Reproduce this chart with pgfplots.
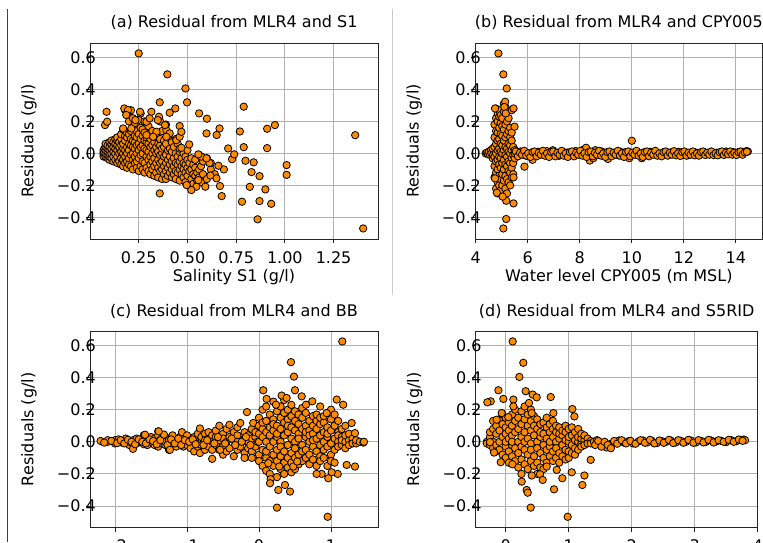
\documentclass[border=0pt]{standalone}
\usepackage{fontspec}
\setmainfont{DejaVu Sans}
\usepackage{pgfplots}
\pgfplotsset{compat=1.18}

\definecolor{dorange}{RGB}{255,140,0}
\definecolor{gridgray}{RGB}{176,176,176}

\pgfplotsset{
  resid/.style={
    scale only axis, anchor=south west,
    width=288pt, height=196pt,
    ymin=-0.535, ymax=0.69,
    ytick={-0.4,-0.2,0,0.2,0.4,0.6},
    yticklabels={−0.4,−0.2,0.0,0.2,0.4,0.6},
    grid=major, major grid style={gridgray, line width=0.9pt},
    axis on top,
    axis line style={black!85, line width=0.9pt},
    tick align=outside, major tick length=4pt,
    tick style={black!85, line width=0.9pt},
    tick pos=left,
    xticklabel style={anchor=base, inner sep=0pt, yshift=-20pt},
    yticklabel style={anchor=east, inner sep=0pt, xshift=10pt},
    ylabel={Residuals (g/l)},
    ylabel style={at={(axis description cs:0,0.5)}, anchor=base, yshift=56.5pt},
    xlabel style={at={(axis description cs:0.5,0)}, anchor=base, yshift=-42.5pt},
    title style={at={(axis description cs:0.5,1)}, anchor=base, yshift=9pt},
  },
  dots/.style={only marks, mark=*, mark size=3.7pt,
    mark options={fill=dorange, draw=black, line width=0.8pt}},
}

\begin{document}
\fontsize{16}{19}\selectfont
\begin{tikzpicture}[font=\fontsize{16}{19}\selectfont]
\path[use as bounding box] (0,0) rectangle (763pt,542pt);
\clip (0,0) rectangle (763pt,542pt);

\draw[black!75, line width=1.2pt] (7.3pt,533pt) -- (7.3pt,0pt);
\draw[black!20, line width=1.5pt] (392.7pt,533pt) -- (392.7pt,247pt);

% (a)
\begin{axis}[resid, at={(90pt,303pt)},
  xmin=0.0, xmax=1.478,
  xtick={0.25,0.5,0.75,1,1.25}, xticklabels={0.25,0.50,0.75,1.00,1.25},
  xlabel={Salinity S1 (g/l)},
  title={(a) Residual from MLR4 and S1}]
\addplot[dots] coordinates {
(0.07,0.0) (0.07,0.01) (0.07,-0.01) (0.07,0.02) (0.07,-0.02) (0.072,0.005) (0.074,0.03)
(0.08,-0.02) (0.08,0.0) (0.08,0.02) (0.08,0.04) (0.08,0.06)
(0.09,-0.03) (0.09,-0.01) (0.09,0.01) (0.09,0.03) (0.09,0.05)
(0.10,-0.04) (0.10,-0.02) (0.10,0.0) (0.10,0.02) (0.10,0.04) (0.10,0.07)
(0.11,-0.03) (0.11,0.0) (0.11,0.03) (0.11,0.06) (0.11,0.08)
(0.12,-0.05) (0.12,-0.02) (0.12,0.01) (0.12,0.04) (0.12,0.07)
(0.13,-0.04) (0.13,0.0) (0.13,0.03) (0.13,0.06) (0.13,0.09)
(0.14,-0.06) (0.14,-0.02) (0.14,0.02) (0.14,0.05) (0.14,0.08) (0.14,0.10)
(0.15,-0.05) (0.15,0.0) (0.15,0.04) (0.15,0.07)
(0.16,-0.07) (0.16,-0.03) (0.16,0.01) (0.16,0.05) (0.16,0.09) (0.16,0.12)
(0.17,-0.08) (0.17,-0.04) (0.17,0.0) (0.17,0.03) (0.17,0.06) (0.17,0.15)
(0.18,-0.06) (0.18,-0.02) (0.18,0.02) (0.18,0.08) (0.18,0.11) (0.18,0.27)
(0.19,-0.09) (0.19,-0.05) (0.19,0.0) (0.19,0.04) (0.19,0.10) (0.19,0.13)
(0.20,-0.07) (0.20,-0.03) (0.20,0.02) (0.20,0.06) (0.20,0.12) (0.20,0.20) (0.20,0.26)
(0.21,-0.08) (0.21,-0.01) (0.21,0.05) (0.21,0.09) (0.21,0.14) (0.21,0.27)
(0.22,-0.10) (0.22,-0.04) (0.22,0.0) (0.22,0.04) (0.22,0.08) (0.22,0.16) (0.22,0.22)
(0.23,-0.06) (0.23,-0.02) (0.23,0.03) (0.23,0.07) (0.23,0.11) (0.23,0.19)
(0.24,-0.09) (0.24,-0.05) (0.24,0.0) (0.24,0.05) (0.24,0.10) (0.24,0.14)
(0.25,-0.11) (0.25,-0.03) (0.25,0.02) (0.25,0.06) (0.25,0.12) (0.25,0.21)
(0.26,-0.08) (0.26,-0.01) (0.26,0.04) (0.26,0.09) (0.26,0.16) (0.26,0.25)
(0.27,-0.10) (0.27,-0.05) (0.27,0.0) (0.27,0.05) (0.27,0.11) (0.27,0.15)
(0.28,-0.12) (0.28,-0.06) (0.28,0.03) (0.28,0.08) (0.28,0.13) (0.28,0.20)
(0.29,-0.09) (0.29,-0.02) (0.29,0.02) (0.29,0.07) (0.29,0.10)
(0.30,-0.11) (0.30,-0.04) (0.30,0.01) (0.30,0.06) (0.30,0.12) (0.30,0.17)
(0.31,-0.13) (0.31,-0.07) (0.31,-0.02) (0.31,0.04) (0.31,0.09)
(0.32,-0.10) (0.32,-0.05) (0.32,0.0) (0.32,0.05) (0.32,0.11) (0.32,0.14)
(0.33,-0.14) (0.33,-0.08) (0.33,-0.03) (0.33,0.02) (0.33,0.07)
(0.34,-0.12) (0.34,-0.06) (0.34,0.0) (0.34,0.04) (0.34,0.10) (0.34,0.12)
(0.35,-0.15) (0.35,-0.09) (0.35,-0.04) (0.35,0.01) (0.35,0.06)
(0.36,-0.11) (0.36,-0.06) (0.36,-0.01) (0.36,0.05) (0.36,0.09) (0.36,0.20)
(0.37,-0.16) (0.37,-0.10) (0.37,-0.05) (0.37,0.0) (0.37,0.03) (0.37,0.14)
(0.38,-0.13) (0.38,-0.08) (0.38,-0.02) (0.38,0.04) (0.38,0.08)
(0.39,-0.16) (0.39,-0.11) (0.39,-0.06) (0.39,-0.01) (0.39,0.06) (0.39,0.18)
(0.40,-0.14) (0.40,-0.09) (0.40,-0.04) (0.40,0.02) (0.40,0.10)
(0.41,-0.12) (0.41,-0.07) (0.41,-0.02) (0.41,0.03)
(0.42,-0.15) (0.42,-0.10) (0.42,-0.05) (0.42,0.01) (0.42,0.07)
(0.43,-0.13) (0.43,-0.08) (0.43,-0.03) (0.43,0.04)
(0.44,-0.16) (0.44,-0.11) (0.44,-0.06) (0.44,0.0) (0.44,0.09)
(0.45,-0.12) (0.45,-0.07) (0.45,-0.02) (0.45,0.06)
(0.46,-0.17) (0.46,-0.10) (0.46,-0.05) (0.46,0.01) (0.46,0.03)
(0.47,-0.13) (0.47,-0.08) (0.47,-0.03)
(0.48,-0.15) (0.48,-0.10) (0.48,-0.06) (0.48,0.0)
(0.49,-0.18) (0.49,-0.12) (0.49,-0.07) (0.49,-0.02)
(0.50,-0.14) (0.50,-0.09) (0.50,-0.04) (0.50,0.02)
(0.51,-0.20) (0.51,-0.11) (0.51,-0.06)
(0.52,-0.16) (0.52,-0.10) (0.52,-0.03)
(0.53,-0.19) (0.53,-0.13) (0.53,-0.07)
(0.54,-0.14) (0.54,-0.09) (0.54,-0.04)
(0.55,-0.17) (0.55,-0.12)
(0.56,-0.15) (0.56,-0.10) (0.56,-0.01)
(0.57,-0.18) (0.57,-0.08)
(0.58,-0.13) (0.58,-0.05)
(0.60,-0.16) (0.60,-0.03)
(0.62,-0.10) (0.62,-0.06)
(0.64,-0.13)
(0.25,0.625) (0.397,0.494) (0.49,0.406) (0.498,0.319) (0.358,0.319) (0.438,0.281)
(0.409,0.254) (0.56,0.25) (0.60,0.217) (0.789,0.292) (0.354,0.229) (0.46,0.171)
(0.598,0.125) (0.65,0.115) (0.665,0.156) (0.769,0.137) (0.909,0.154) (0.949,0.177)
(1.361,0.114) (0.709,0.031) (0.789,0.039) (0.909,0.033) (0.729,-0.036) (0.74,-0.006)
(0.798,-0.046) (0.84,-0.056) (1.009,-0.073) (1.009,-0.134) (0.829,-0.117) (0.87,-0.142)
(0.82,-0.209) (0.90,-0.225) (0.78,-0.302) (0.87,-0.298) (0.93,-0.315) (0.86,-0.412)
(1.402,-0.469) (0.676,-0.267) (0.667,-0.204) (0.649,-0.156) (0.618,-0.138) (0.592,-0.208)
(0.546,-0.208) (0.52,-0.229) (0.496,-0.198) (0.556,-0.167) (0.358,-0.25) (0.687,-0.1)
(0.659,-0.077) (0.613,-0.06) (0.572,-0.02) (0.556,-0.006) (0.598,-0.031) (0.509,0.056)
(0.469,0.035) (0.443,0.083) (0.392,0.146) (0.385,0.177) (0.315,0.26) (0.257,0.26)
(0.176,0.281) (0.195,0.271) (0.085,0.26) (0.077,0.177) (0.088,0.198) (0.186,0.24)
(0.233,0.208) (0.29,0.198) (0.306,0.219) (0.348,0.208) (0.212,0.156) (0.17,0.156)
(0.341,0.135) (0.409,0.125) (0.29,0.115) (0.392,0.104) (0.324,0.104) (0.46,0.104)
(0.469,0.135)
};
\end{axis}

% (b)
\begin{axis}[resid, at={(475pt,303pt)}, width=287.7pt,
  xmin=3.97, xmax=15.03,
  xtick={4,6,8,10,12,14}, xticklabels={4,6,8,10,12,14},
  xlabel={Water level CPY005 (m MSL)},
  title={(b) Residual from MLR4 and CPY005}]
\addplot[dots] coordinates {
(4.38,0.0) (4.42,0.005) (4.47,-0.005) (4.5,0.01) (4.55,-0.01) (4.58,0.02) (4.6,0.0) (4.65,-0.03) (4.65,0.03) (4.67,-0.01)
(4.72,-0.15) (4.72,-0.08) (4.72,-0.02) (4.72,0.04) (4.72,0.10) (4.72,0.18)
(4.78,-0.22) (4.78,-0.12) (4.78,-0.05) (4.78,0.0) (4.78,0.06) (4.78,0.14) (4.78,0.22) (4.78,0.28)
(4.84,-0.25) (4.84,-0.18) (4.84,-0.10) (4.84,-0.04) (4.84,0.02) (4.84,0.08) (4.84,0.13) (4.84,0.20) (4.84,0.25)
(4.90,-0.20) (4.90,-0.14) (4.90,-0.07) (4.90,-0.02) (4.90,0.03) (4.90,0.09) (4.90,0.16) (4.90,0.23) (4.90,0.27)
(4.96,-0.23) (4.96,-0.16) (4.96,-0.09) (4.96,-0.03) (4.96,0.01) (4.96,0.06) (4.96,0.12) (4.96,0.19) (4.96,0.24)
(5.02,-0.20) (5.02,-0.13) (5.02,-0.06) (5.02,0.0) (5.02,0.05) (5.02,0.11) (5.02,0.17) (5.02,0.22)
(5.08,-0.27) (5.08,-0.17) (5.08,-0.10) (5.08,-0.04) (5.08,0.02) (5.08,0.08) (5.08,0.15) (5.08,0.26) (5.08,0.31)
(5.14,-0.22) (5.14,-0.14) (5.14,-0.07) (5.14,-0.01) (5.14,0.04) (5.14,0.10) (5.14,0.18) (5.14,0.29)
(5.20,-0.25) (5.20,-0.16) (5.20,-0.08) (5.20,-0.02) (5.20,0.03) (5.20,0.12) (5.20,0.20) (5.20,0.27)
(5.26,-0.18) (5.26,-0.11) (5.26,-0.05) (5.26,0.01) (5.26,0.06) (5.26,0.14) (5.26,0.22)
(5.32,-0.20) (5.32,-0.12) (5.32,-0.06) (5.32,0.0) (5.32,0.05) (5.32,0.10) (5.32,0.16)
(5.38,-0.15) (5.38,-0.09) (5.38,-0.03) (5.38,0.02) (5.38,0.08) (5.38,0.13) (5.38,0.27)
(5.44,-0.13) (5.44,-0.06) (5.44,-0.01) (5.44,0.04)
(5.50,-0.03) (5.50,0.0) (5.50,0.02)
(4.87,0.625) (5.06,0.494) (5.19,0.406) (5.13,0.323) (5.45,0.281) (4.74,0.281) (5.49,0.167)
(5.87,-0.083) (5.45,-0.3125) (5.17,-0.296) (5.17,-0.41) (5.06,-0.469) (4.81,-0.246)
(5.03,-0.27) (10.0,0.079) (4.74,-0.156) (5.45,-0.15) (5.1,0.29) (5.15,0.25)
(5.58,0.005) (5.65,-0.01) (5.72,0.012) (5.8,-0.005) (5.88,0.008) (5.95,-0.015) (6.02,0.0)
(6.1,-0.02) (6.18,-0.04) (6.25,0.005) (6.32,-0.012) (6.4,0.01) (6.48,-0.005) (6.56,0.0)
(6.64,-0.01) (6.73,0.014) (6.8,-0.004) (6.88,0.006) (6.96,0.02) (7.04,-0.01) (7.12,0.004)
(7.2,-0.015) (7.28,0.0) (7.36,0.01) (7.44,-0.008) (7.52,0.005) (7.6,-0.012) (7.68,0.008)
(7.76,0.0) (7.84,0.015) (7.92,-0.005) (8.0,0.01) (8.08,-0.01) (8.16,0.025) (8.24,0.035)
(8.3,-0.02) (8.38,-0.045) (8.45,0.0) (8.52,-0.03) (8.6,0.02) (8.68,0.005) (8.76,-0.01)
(8.84,0.012) (8.92,0.0) (9.0,-0.02) (9.08,-0.035) (9.16,0.008) (9.24,-0.006) (9.32,0.004)
(9.4,0.0) (9.48,-0.012) (9.56,0.01) (9.64,-0.004) (9.72,0.006) (9.8,0.0) (9.9,-0.03)
(9.96,-0.01) (10.05,0.004) (10.12,-0.006) (10.2,0.0) (10.3,-0.012) (10.38,-0.03) (10.45,0.005)
(10.55,-0.008) (10.62,0.0) (10.7,0.01) (10.8,-0.004) (10.9,0.006) (11.0,0.0) (11.1,-0.01)
(11.2,0.004) (11.3,0.0) (11.4,-0.006) (11.5,0.006) (11.6,0.0) (11.7,-0.008) (11.8,0.01)
(11.88,0.0) (11.95,-0.01) (12.05,0.004) (12.15,-0.012) (12.25,0.0) (12.35,-0.006) (12.45,0.006)
(12.55,-0.004) (12.65,0.002) (12.75,0.008) (12.85,-0.006) (12.95,0.0) (13.05,0.01) (13.15,-0.002)
(13.25,0.004) (13.35,-0.006) (13.45,0.004) (13.55,0.0) (13.62,0.012) (13.7,0.006) (13.8,-0.004)
(13.9,0.008) (14.0,0.0) (14.1,0.006) (14.2,-0.004) (14.3,0.008) (14.4,0.014) (14.46,0.012)
(5.54,0.012) (5.62,-0.018) (5.70,0.004) (5.78,-0.008) (5.86,0.016) (5.94,-0.014) (6.02,0.0) (6.10,-0.022) (6.18,0.008)
(6.26,0.012) (6.34,-0.018) (6.42,0.004) (6.50,-0.008) (6.58,0.016) (6.66,-0.014) (6.74,0.0) (6.82,-0.022) (6.90,0.008)
(6.98,0.012) (7.06,-0.018) (7.14,0.004) (7.22,-0.008) (7.30,0.016) (7.38,-0.014) (7.46,0.0) (7.54,-0.022) (7.62,0.008)
(7.70,0.012) (7.78,-0.018) (7.86,0.004) (7.94,-0.008) (8.02,0.016) (8.10,-0.014) (8.18,0.0) (8.26,-0.022) (8.34,0.008)
(8.42,0.012) (8.50,-0.018) (8.58,0.004) (8.66,-0.008) (8.74,0.016) (8.82,-0.014) (8.90,0.0) (8.98,-0.022) (9.06,0.008)
(9.14,0.012) (9.22,-0.018) (9.30,0.004) (9.38,-0.008) (9.46,0.016) (9.54,-0.014) (9.62,0.0) (9.70,-0.022) (9.78,0.008)
(9.86,0.012) (9.94,-0.018) (10.02,0.004) (10.10,-0.008) (10.18,0.016) (10.26,-0.014) (10.34,0.0) (10.42,-0.022) (10.50,0.008)
(10.58,0.012) (10.66,-0.018) (10.74,0.004) (10.82,-0.008) (10.90,0.016) (10.98,-0.014) (11.06,0.0) (11.14,-0.018) (11.22,0.008)
(11.30,0.012) (11.38,-0.014) (11.46,0.004) (11.54,-0.008) (11.62,0.014) (11.70,-0.012) (11.78,0.0) (11.86,-0.016) (11.94,0.008)
(12.02,0.012) (12.10,-0.014) (12.18,0.004) (12.26,-0.008) (12.34,0.012) (12.42,-0.012) (12.50,0.0) (12.58,-0.014) (12.66,0.008)
(12.74,0.012) (12.82,-0.01) (12.90,0.004) (12.98,-0.008) (13.06,0.012) (13.14,-0.01) (13.22,0.0) (13.30,-0.012) (13.38,0.008)
(13.46,0.012) (13.54,-0.01) (13.62,0.004) (13.70,-0.006) (13.78,0.012) (13.86,-0.008) (13.94,0.004) (14.02,-0.01) (14.10,0.008)
(14.18,0.012) (14.26,-0.008) (14.34,0.006) (14.42,0.01)
};
\end{axis}

% (c)
\begin{axis}[resid, at={(90pt,14.3pt)}, height=196.7pt,
  xmin=-2.347, xmax=1.653,
  xtick={-2,-1,0,1}, xticklabels={−2,−1,0,1},
  xlabel={BB},
  title={(c) Residual from MLR4 and BB}]
\addplot[dots] coordinates {
(-2.2,0.005) (-2.1,0.0) (-2.1,0.01) (-2.0,-0.01) (-2.0,0.01) (-1.95,0.015) (-1.9,-0.005)
(-1.85,0.005) (-1.85,0.02) (-1.8,-0.02) (-1.8,0.0) (-1.75,-0.044) (-1.75,0.01) (-1.7,0.02)
(-1.7,-0.01) (-1.65,0.0) (-1.6,0.04) (-1.6,-0.015) (-1.55,0.01) (-1.55,-0.02) (-1.5,0.03)
(-1.5,0.0) (-1.45,-0.02) (-1.45,0.02) (-1.4,0.065) (-1.4,0.04) (-1.4,-0.03) (-1.4,0.0)
(-1.35,0.02) (-1.35,-0.01) (-1.3,0.03) (-1.3,-0.02) (-1.3,0.0) (-1.25,-0.05) (-1.25,0.01)
(-1.2,0.02) (-1.2,-0.02) (-1.2,0.04) (-1.15,0.0) (-1.15,-0.03) (-1.1,0.03) (-1.1,-0.01)
(-1.07,0.06) (-1.05,0.0) (-1.05,-0.03) (-1.0,0.02) (-1.0,-0.02) (-1.0,0.04) (-0.95,-0.04)
(-0.95,0.01) (-0.9,0.03) (-0.9,-0.06) (-0.9,0.0) (-0.85,0.05) (-0.85,-0.03) (-0.82,0.083)
(-0.82,-0.07) (-0.8,0.0) (-0.8,0.03) (-0.8,-0.02) (-0.75,0.05) (-0.75,-0.05) (-0.75,0.01)
(-0.7,-0.03) (-0.7,0.02) (-0.7,0.06) (-0.65,-0.106) (-0.65,0.0) (-0.65,0.04) (-0.65,-0.05)
(-0.6,0.03) (-0.6,-0.02) (-0.6,0.07) (-0.55,0.1) (-0.55,-0.05) (-0.55,0.01) (-0.5,-0.03)
(-0.5,0.05) (-0.5,-0.08) (-0.5,0.02) (-0.45,0.0) (-0.45,0.08) (-0.45,-0.06) (-0.41,0.106)
(-0.41,0.03) (-0.41,-0.04) (-0.35,-0.09) (-0.35,0.01) (-0.35,0.06) (-0.3,0.04) (-0.3,-0.05)
(-0.3,0.0) (-0.3,0.09) (-0.26,0.117) (-0.26,-0.03) (-0.2,0.02) (-0.2,-0.07) (-0.2,0.06)
(-0.2,-0.1) (-0.167,0.185) (-0.15,0.0) (-0.15,0.04) (-0.15,-0.04) (-0.1,0.08) (-0.1,-0.06)
(-0.1,0.02) (-0.1,-0.1) (-0.08,0.117) (-0.05,0.03) (-0.05,-0.03) (-0.05,0.06)
(-2.15,-0.005) (-2.05,0.005) (-1.97,-0.008) (-1.92,0.01) (-1.87,-0.01) (-1.82,0.012)
(-1.77,0.0) (-1.72,-0.015) (-1.67,0.015) (-1.62,0.0) (-1.57,-0.01) (-1.52,0.015)
(-1.47,0.005) (-1.42,-0.015) (-1.37,0.01) (-1.32,0.045) (-1.27,-0.02) (-1.22,0.015)
(-1.17,-0.01) (-1.12,0.02) (-1.08,-0.02) (-1.03,0.01) (-0.97,0.0) (-0.92,0.015)
(-0.88,-0.015) (-0.77,-0.02) (-0.72,0.01) (-0.62,-0.01) (-0.57,0.03) (-0.47,-0.01)
(-0.38,0.02) (-0.33,-0.02) (-0.24,0.0) (-0.18,0.03) (-0.12,-0.02) (-0.02,0.0)
(0.0,-0.08) (0.0,0.0) (0.0,0.1) (0.0,0.05) (0.0,-0.12) (0.0,0.15)
(0.05,0.03) (0.05,-0.05) (0.05,0.08) (0.05,0.12) (0.05,-0.15) (0.05,0.2)
(0.1,-0.1) (0.1,0.0) (0.1,0.06) (0.1,0.13) (0.1,-0.06) (0.1,0.22) (0.1,-0.18)
(0.15,0.04) (0.15,-0.03) (0.15,0.09) (0.15,-0.12) (0.15,0.17) (0.15,-0.2)
(0.2,0.0) (0.2,0.07) (0.2,-0.08) (0.2,0.14) (0.2,-0.15) (0.2,0.25) (0.2,0.11)
(0.25,-0.05) (0.25,0.03) (0.25,0.1) (0.25,-0.12) (0.25,0.19) (0.25,-0.22) (0.25,0.05)
(0.3,0.0) (0.3,0.08) (0.3,-0.09) (0.3,0.15) (0.3,-0.17) (0.3,0.22) (0.3,-0.03)
(0.35,0.04) (0.35,-0.06) (0.35,0.12) (0.35,-0.13) (0.35,0.18) (0.35,0.26) (0.35,-0.2)
(0.4,-0.02) (0.4,0.06) (0.4,-0.1) (0.4,0.14) (0.4,0.2) (0.4,-0.16) (0.4,0.1)
(0.45,0.02) (0.45,-0.07) (0.45,0.09) (0.45,0.16) (0.45,-0.13) (0.45,0.23) (0.45,-0.19)
(0.5,0.0) (0.5,-0.04) (0.5,0.07) (0.5,0.13) (0.5,-0.1) (0.5,0.19) (0.5,-0.17)
(0.55,0.05) (0.55,-0.08) (0.55,0.11) (0.55,-0.14) (0.55,0.17) (0.55,0.02)
(0.6,-0.02) (0.6,0.08) (0.6,-0.06) (0.6,0.15) (0.6,-0.12) (0.6,0.21)
(0.65,0.03) (0.65,-0.1) (0.65,0.1) (0.65,0.06) (0.65,-0.05) (0.65,0.18)
(0.7,0.0) (0.7,0.07) (0.7,-0.08) (0.7,0.13) (0.7,-0.14) (0.7,0.04)
(0.75,-0.03) (0.75,0.05) (0.75,0.1) (0.75,-0.11) (0.75,0.16) (0.75,0.01)
(0.8,0.02) (0.8,-0.06) (0.8,0.08) (0.8,0.13) (0.8,-0.15) (0.8,0.17)
(0.85,-0.02) (0.85,0.04) (0.85,0.11) (0.85,-0.09) (0.85,0.15) (0.85,-0.12)
(0.9,0.0) (0.9,0.06) (0.9,-0.05) (0.9,0.12) (0.9,-0.1) (0.9,0.16)
(0.95,0.03) (0.95,-0.03) (0.95,0.09) (0.95,-0.15) (0.95,0.05)
(1.0,-0.01) (1.0,0.07) (1.0,0.14) (1.0,-0.08) (1.0,0.2) (1.0,-0.12)
(1.05,0.02) (1.05,-0.05) (1.05,0.1) (1.05,0.17) (1.05,-0.13)
(1.1,0.0) (1.1,0.06) (1.1,-0.03) (1.1,0.13) (1.1,0.04)
(1.15,-0.02) (1.15,0.03) (1.15,0.08) (1.15,0.01)
(1.2,0.0) (1.2,0.04) (1.2,-0.04) (1.2,0.1)
(1.25,0.01) (1.25,-0.02) (1.25,0.05) (1.3,0.0) (1.3,0.02) (1.3,-0.01)
(1.35,-0.01) (1.35,0.01) (1.4,0.0) (1.45,-0.005)
(1.157,0.625) (0.444,0.496) (0.486,0.406) (0.5,0.321) (0.06,0.321) (0.106,0.267)
(0.236,0.231) (0.315,0.288) (0.384,0.273) (0.593,0.283) (0.74,0.252) (0.653,0.231)
(1.08,0.263) (1.17,0.231) (0.94,0.179) (0.85,0.22) (1.287,0.117) (1.333,0.054)
(1.458,0.0) (1.333,-0.154) (1.218,-0.144) (1.093,-0.2) (1.01,-0.19) (0.87,-0.2)
(0.80,-0.2) (0.954,-0.467) (0.963,-0.227) (0.25,-0.41) (0.431,-0.31) (0.361,-0.269)
(0.269,-0.3) (0.162,-0.233) (0.153,-0.258) (0.477,-0.154) (0.532,-0.123) (0.282,-0.154)
(0.13,-0.133) (-1.393,0.065) (-1.583,0.044) (-1.236,-0.05) (-0.54,-0.05)
};
\end{axis}

% (d)
\begin{axis}[resid, at={(475.7pt,14.3pt)}, width=282pt, height=196.7pt,
  xmin=-0.476, xmax=4.0,
  xtick={0,1,2,3,4}, xticklabels={0,1,2,3,4},
  xlabel={S5RID},
  title={(d) Residual from MLR4 and S5RID}]
\addplot[dots] coordinates {
(-0.3,0.0) (-0.3,-0.01) (-0.25,0.03) (-0.25,-0.02) (-0.25,0.06) (-0.2,0.0) (-0.2,0.08)
(-0.2,-0.04) (-0.2,0.13) (-0.15,0.05) (-0.15,-0.02) (-0.15,0.1) (-0.15,-0.06) (-0.1,0.0)
(-0.1,0.07) (-0.1,-0.05) (-0.1,0.14) (-0.05,0.03) (-0.05,-0.08) (-0.05,0.11) (-0.05,0.17)
(0.0,-0.03) (0.0,0.05) (0.0,0.09) (0.0,-0.1) (0.0,0.15) (0.0,0.0)
(0.05,0.02) (0.05,-0.06) (0.05,0.12) (0.05,0.07) (0.05,-0.13)
(0.1,-0.02) (0.1,0.04) (0.1,0.1) (0.1,-0.09) (0.1,0.17) (0.1,0.0)
(0.15,0.06) (0.15,-0.04) (0.15,0.13) (0.15,-0.12) (0.15,0.2)
(0.2,0.0) (0.2,0.08) (0.2,-0.07) (0.2,0.15) (0.2,-0.16)
(0.25,0.03) (0.25,-0.03) (0.25,0.11) (0.25,-0.11) (0.25,0.19) (0.25,-0.2)
(0.3,-0.05) (0.3,0.06) (0.3,0.14) (0.3,-0.14) (0.3,0.0) (0.3,0.22)
(0.35,0.02) (0.35,-0.08) (0.35,0.1) (0.35,-0.17) (0.35,0.17)
(0.4,-0.01) (0.4,0.07) (0.4,-0.12) (0.4,0.13) (0.4,-0.05) (0.4,0.2)
(0.45,0.04) (0.45,-0.09) (0.45,0.1) (0.45,-0.15) (0.45,0.16)
(0.5,0.0) (0.5,-0.04) (0.5,0.08) (0.5,-0.13) (0.5,0.14) (0.5,-0.2)
(0.55,0.03) (0.55,-0.07) (0.55,0.11) (0.55,-0.16) (0.55,0.06)
(0.6,-0.02) (0.6,0.05) (0.6,-0.1) (0.6,0.12) (0.6,-0.17)
(0.65,0.02) (0.65,-0.05) (0.65,0.09) (0.65,-0.13) (0.65,0.15)
(0.7,-0.03) (0.7,0.06) (0.7,-0.09) (0.7,0.11) (0.7,0.0)
(0.75,0.03) (0.75,-0.06) (0.75,0.08) (0.75,-0.12) (0.75,0.13)
(0.8,0.0) (0.8,-0.04) (0.8,0.06) (0.8,-0.1) (0.8,0.1)
(0.85,0.02) (0.85,-0.07) (0.85,0.05) (0.85,-0.13) (0.85,0.09)
(0.9,-0.02) (0.9,0.04) (0.9,-0.09) (0.9,0.07)
(0.95,0.01) (0.95,-0.05) (0.95,0.06) (0.95,-0.11) (0.95,0.1)
(1.0,0.0) (1.0,0.03) (1.0,-0.06) (1.0,0.08) (1.0,-0.1)
(1.05,-0.02) (1.05,0.04) (1.05,-0.07) (1.05,0.09)
(1.1,0.01) (1.1,-0.04) (1.1,0.06) (1.1,-0.08)
(1.15,0.0) (1.15,0.03) (1.15,-0.05) (1.15,0.08)
(1.2,-0.01) (1.2,0.02) (1.2,-0.03) (1.2,0.05)
(1.25,0.01) (1.25,-0.02) (1.25,0.04) (1.3,0.0) (1.3,0.02) (1.3,-0.01)
(1.35,0.005) (1.35,-0.01)
(1.4,0.0) (1.45,0.01) (1.5,-0.01) (1.55,-0.02) (1.6,-0.035) (1.65,-0.015) (1.7,-0.01)
(1.75,0.0) (1.8,0.008) (1.88,-0.005) (1.95,0.004) (2.02,-0.01) (2.1,0.0) (2.18,0.008)
(2.25,-0.004) (2.32,0.006) (2.4,-0.008) (2.48,0.004) (2.55,0.0) (2.62,0.008) (2.7,-0.004)
(2.78,0.006) (2.86,0.0) (2.94,0.008) (3.02,-0.004) (3.1,0.006) (3.18,0.0) (3.26,0.008)
(3.34,0.002) (3.42,0.006) (3.5,-0.002) (3.58,0.01) (3.66,0.004) (3.72,0.012) (3.78,0.014)
(3.8,0.01)
(1.42,-0.02) (1.47,0.005) (1.52,-0.03) (1.57,0.0) (1.62,-0.02) (1.67,-0.04) (1.72,0.005)
(1.77,-0.012) (1.84,0.01) (1.91,-0.01) (1.98,0.006) (2.06,-0.012) (2.14,0.01) (2.21,-0.006)
(2.29,0.012) (2.36,-0.01) (2.44,0.008) (2.51,-0.006) (2.59,0.012) (2.66,-0.008) (2.74,0.01)
(2.82,-0.006) (2.9,0.012) (2.98,-0.006) (3.06,0.01) (3.14,-0.004) (3.22,0.012) (3.3,-0.004)
(3.38,0.01) (3.46,0.0) (3.54,0.012) (3.62,0.0) (3.7,0.014) (3.76,0.006)
(0.111,0.625) (0.28,0.492) (0.217,0.404) (0.317,0.315) (-0.116,0.321) (-0.238,0.252)
(-0.291,0.246) (-0.037,0.267) (0.122,0.263) (0.428,0.294) (0.492,0.277) (0.714,0.279)
(0.37,0.242) (1.058,0.204) (1.09,0.158) (0.757,0.179) (-0.143,0.1375) (-0.063,0.179)
(0.042,0.154) (0.413,0.179) (0.122,0.221) (1.349,-0.1125) (1.249,-0.21) (1.217,-0.269)
(1.048,-0.19) (-0.079,-0.127) (0.106,-0.14) (0.254,-0.248) (0.333,-0.3) (0.349,-0.317)
(0.397,-0.41) (0.984,-0.467) (0.81,-0.175) (0.767,-0.296) (0.899,-0.227) (0.545,-0.202)
(0.587,-0.2375) (0.651,-0.154) (0.413,-0.21) (-0.185,-0.067) (-0.249,-0.002)
};
\end{axis}
\end{tikzpicture}
\end{document}
